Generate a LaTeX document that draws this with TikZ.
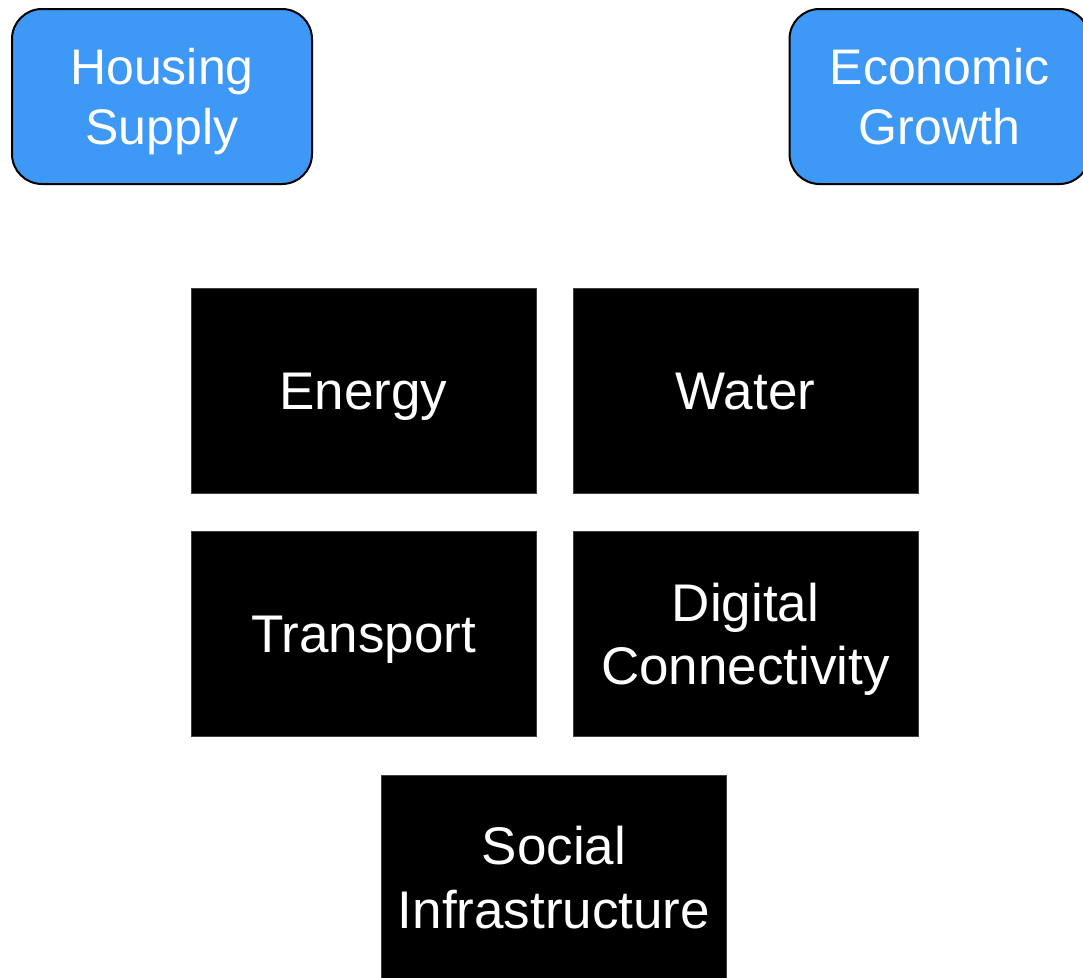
\documentclass[tikz,border=0pt]{standalone}
\usepackage{fontspec}
\setmainfont{Liberation Sans}
\definecolor{boxblue}{RGB}{61,153,245}
\newcommand{\capstrut}{\rule[-0.234em]{0pt}{1.184em}}
\begin{document}
\begin{tikzpicture}[x=1pt,y=-1pt,
  goal/.style={rectangle, rounded corners=30pt, fill=boxblue, draw=black, line width=2pt,
    minimum width=300pt, minimum height=175pt, inner sep=0pt, text=white, align=center,
    font=\fontsize{50}{60}\selectfont},
  infra/.style={rectangle, fill=black, draw=black!75, line width=0.8pt,
    minimum width=345pt, minimum height=205pt, inner sep=0pt, text=white, align=center,
    font=\fontsize{53}{61}\selectfont}]
\useasboundingbox (0,0) rectangle (1083,977);
\fill[white] (0,0) rectangle (1083,977);
\node[goal] (housing) at (162,96.5) {\capstrut Housing\\\capstrut Supply};
\node[goal] (growth) at (939.5,96.5) {\capstrut Economic\\\capstrut Growth};
\node[infra] (energy) at (363.5,390.5) {\capstrut Energy};
\node[infra] (water) at (745.5,390.5) {\capstrut Water};
\node[infra] (transport) at (363.5,634) {\capstrut Transport};
\node[infra] (digital) at (745.5,634) {\capstrut Digital\\\capstrut Connectivity};
\node[infra] (social) at (554,877.5) {\capstrut Social\\\capstrut Infrastructure};
\end{tikzpicture}
\end{document}
